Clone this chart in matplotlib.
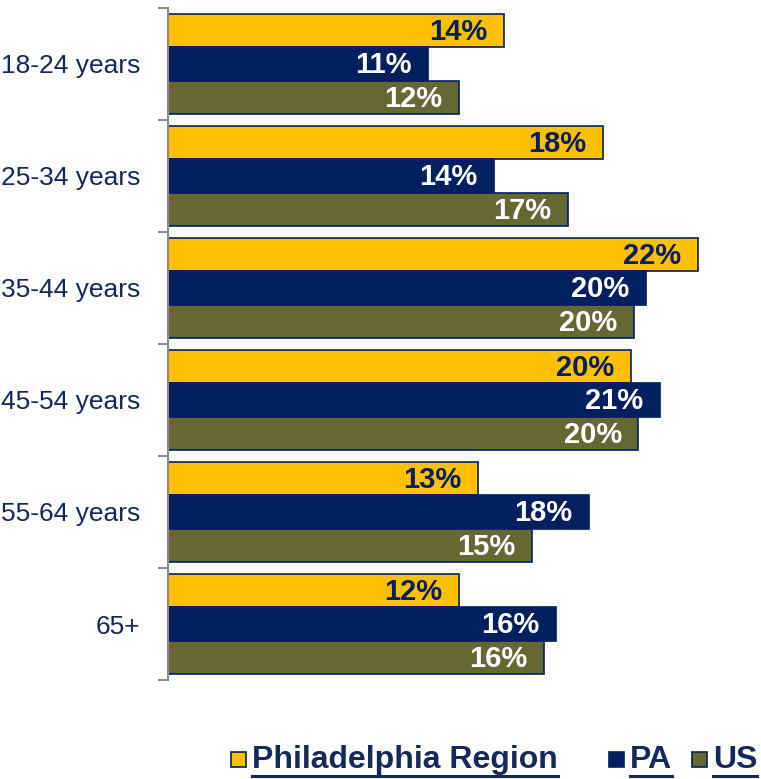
import matplotlib.pyplot as plt
import numpy as np

# age groups and shares (percent)
groups = ['18-24 years', '25-34 years', '35-44 years', '45-54 years', '55-64 years', '65+']
phil = [14.2, 18.4, 22.4, 19.6, 13.1, 12.3]
pa = [11.0, 13.8, 20.2, 20.8, 17.8, 16.4]
us = [12.3, 16.9, 19.7, 19.9, 15.4, 15.9]
series_names = ['Philadelphia Region', 'PA', 'US']

navy = '#002060'
gold = '#FFC000'
olive = '#676734'
text_navy = '#14285A'

plt.rcParams['font.family'] = ['Liberation Sans', 'DejaVu Sans']

fig = plt.figure(figsize=(7.61, 7.79), dpi=100)
ax = fig.add_axes([168/761, 1 - 680/779, 591/761, 672/779])

y = np.arange(len(groups))
h = 0.3
series = [(phil, gold, navy), (pa, navy, 'white'), (us, olive, 'white')]
for k, (vals, col, lab_col) in enumerate(series):
    pos = y + (k - 1) * h
    ax.barh(pos, vals, height=h, color=col, edgecolor=navy, linewidth=1.2)
    for p, v in zip(pos, vals):
        ax.annotate('%d%%' % round(v), xy=(v, p), xytext=(-12, -1),
                    textcoords='offset points', ha='right', va='center',
                    fontsize=21, fontweight='bold', color=lab_col)

ax.set_xlim(0, 25)
ax.set_ylim(len(groups) - 0.5, -0.5)

# boundary ticks (major) and category labels (minor)
ax.set_yticks(np.arange(len(groups) + 1) - 0.5)
ax.set_yticklabels([])
ax.set_yticks(y, minor=True)
ax.set_yticklabels(groups, minor=True, fontsize=19, color=text_navy)
ax.tick_params(axis='y', which='major', length=7, width=1.5, color='#8C8C8C', direction='out')
ax.tick_params(axis='y', which='minor', length=0, pad=20)
ax.set_xticks([])

for s in ['top', 'right', 'bottom']:
    ax.spines[s].set_visible(False)
ax.spines['left'].set_color('#8C8C8C')
ax.spines['left'].set_linewidth(1.5)

# legend drawn by hand: square markers + bold underlined text
fig.canvas.draw()
renderer = fig.canvas.get_renderer()
W, H = fig.get_size_inches() * fig.dpi
leg_items = [(series_names[0], gold, 231), (series_names[1], navy, 609), (series_names[2], olive, 692)]
ly = 1 - 760 / 779
for name, col, xpx in leg_items:
    fig.patches.append(plt.Rectangle((xpx / W, ly - 7 / H), 15 / W, 15 / H,
                                     transform=fig.transFigure, facecolor=col,
                                     edgecolor=navy, linewidth=1.2))
    t = fig.text((xpx + 21) / W, ly, name, fontsize=23, fontweight='bold',
                 color=text_navy, va='center', ha='left')
    bb = t.get_window_extent(renderer)
    uy = (bb.y0 - 1) / H
    fig.lines.append(plt.Line2D([bb.x0 / W, bb.x1 / W], [uy, uy],
                                transform=fig.transFigure, color=text_navy, linewidth=2.2))

fig.savefig('out.png', dpi=100)
